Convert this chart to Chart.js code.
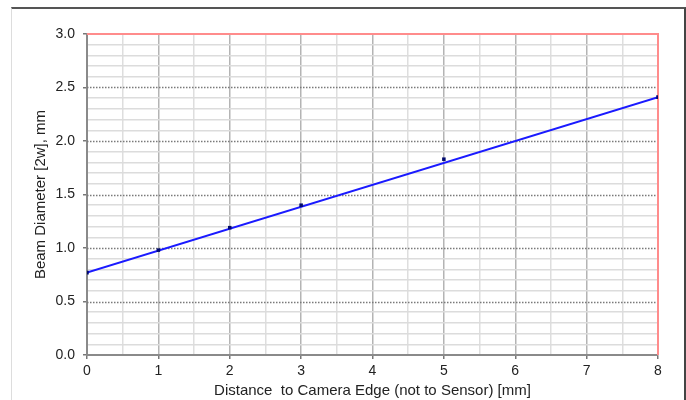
<!DOCTYPE html>
<html>
<head>
<meta charset="utf-8">
<script src="https://cdn.jsdelivr.net/npm/chart.js@4/dist/chart.umd.min.js"></script>
<style>
  html, body { margin: 0; padding: 0; background: #fff; }
  #wrap { position: relative; width: 686px; height: 400px; overflow: hidden; }
  #frame { position: absolute; left: 11px; top: 7px; width: 672px; height: 400px;
           border-top: 2px solid #555; border-right: 2px solid #444; border-left: 1px solid #ddd; }
  #c { position: absolute; left: 0; top: 0; }
</style>
</head>
<body>
<div id="wrap">
  <div id="frame"></div>
  <canvas id="c" width="686" height="400"></canvas>
</div>
<script>
// Measured beam diameter vs. distance to camera edge
const distances = [0, 1, 2, 3, 5, 8];
const diameters = [0.77, 0.98, 1.19, 1.40, 1.83, 2.41];

// Linear trend line end points
const fitX = [0, 8];
const fitY = [0.77, 2.41];

const xTitle = 'Distance  to Camera Edge (not to Sensor) [mm]';
const yTitle = 'Beam Diameter [2w], mm';

const FONT = 'Arial, "Liberation Sans", sans-serif';

function isMajor(v, step) {
  return Math.abs(v / step - Math.round(v / step)) < 1e-6;
}

// Dotted major grid lines every 0.5 and red plot edges (top / right)
const plotDecor = {
  id: 'plotDecor',
  beforeDatasetsDraw(chart) {
    const { ctx, chartArea: a, scales: { y } } = chart;
    ctx.save();
    ctx.strokeStyle = '#7a7a7a';
    ctx.lineWidth = 1.5;
    ctx.setLineDash([1.5, 1.5]);
    for (let v = 0.5; v < 3; v += 0.5) {
      const py = Math.round(y.getPixelForValue(v)) + 0.5;
      ctx.beginPath();
      ctx.moveTo(a.left, py);
      ctx.lineTo(a.right, py);
      ctx.stroke();
    }
    ctx.setLineDash([]);
    ctx.strokeStyle = '#ff8c8c';
    ctx.lineWidth = 2;
    ctx.beginPath();
    ctx.moveTo(a.left, a.top);
    ctx.lineTo(a.right, a.top);
    ctx.lineTo(a.right, a.bottom);
    ctx.stroke();
    ctx.restore();
  }
};

new Chart(document.getElementById('c'), {
  type: 'scatter',
  data: {
    datasets: [
      {
        type: 'line',
        data: fitX.map((v, i) => ({ x: v, y: fitY[i] })),
        borderColor: '#1a1aff',
        borderWidth: 2,
        pointRadius: 0,
        fill: false,
        order: 2
      },
      {
        data: distances.map((v, i) => ({ x: v, y: diameters[i] })),
        backgroundColor: '#000a6e',
        borderColor: '#000a6e',
        pointStyle: 'rect',
        pointRadius: 2.5,
        borderWidth: 0,
        order: 1
      }
    ]
  },
  options: {
    responsive: false,
    animation: false,
    events: [],
    layout: { padding: { left: 0, top: 34, right: 28, bottom: 0 } },
    plugins: { legend: { display: false }, tooltip: { enabled: false } },
    scales: {
      x: {
        type: 'linear',
        min: 0, max: 8,
        afterFit(s) { s.height = 45; },
        ticks: {
          stepSize: 0.5,
          autoSkip: false,
          maxRotation: 0,
          padding: 4,
          color: '#222',
          font: { family: FONT, size: 14 },
          callback: v => isMajor(v, 1) ? String(Math.round(v)) : ''
        },
        grid: {
          color: c => isMajor(c.tick.value, 1) ? '#b4b4b4' : '#dedede',
          lineWidth: 1.5,
          tickLength: 4,
          tickColor: c => isMajor(c.tick.value, 1) ? '#777' : 'rgba(0,0,0,0)'
        },
        border: { color: '#8a8a8a', width: 2 },
        title: {
          display: true,
          text: xTitle,
          color: '#222',
          font: { family: FONT, size: 15 },
          padding: { top: 0, bottom: 0 }
        }
      },
      y: {
        type: 'linear',
        min: 0, max: 3,
        afterFit(s) { s.width = 87; },
        ticks: {
          stepSize: 0.1,
          autoSkip: false,
          padding: 8,
          color: '#222',
          font: { family: FONT, size: 14 },
          callback: v => isMajor(v, 0.5) ? v.toFixed(1) : ''
        },
        grid: {
          color: c => isMajor(c.tick.value, 0.5) ? 'rgba(0,0,0,0)' : '#dcdcdc',
          lineWidth: 1.5,
          tickLength: 4,
          tickColor: c => isMajor(c.tick.value, 0.5) ? '#777' : 'rgba(0,0,0,0)'
        },
        border: { color: '#8a8a8a', width: 2 },
        title: {
          display: true,
          text: yTitle,
          color: '#222',
          font: { family: FONT, size: 15 },
          padding: { top: 32, bottom: 0 }
        }
      }
    }
  },
  plugins: [plotDecor]
});
</script>
</body>
</html>
